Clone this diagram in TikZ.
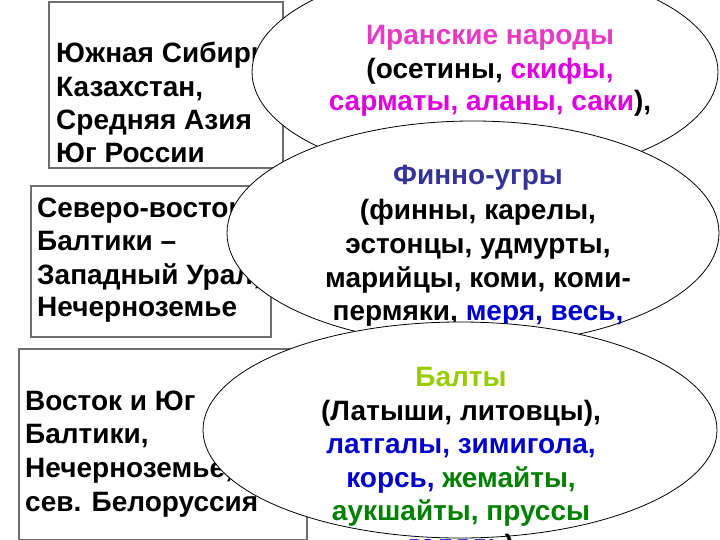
\documentclass[tikz,border=0pt]{standalone}
\usepackage{fontspec}
\setmainfont{Liberation Sans}
\usetikzlibrary{shapes.geometric}
\definecolor{iranpink}{RGB}{228,60,196}
\definecolor{mag}{RGB}{222,0,222}
\definecolor{finblue}{RGB}{51,51,153}
\definecolor{blu}{RGB}{0,0,204}
\definecolor{baltgreen}{RGB}{153,204,0}
\definecolor{grn}{RGB}{0,128,0}
\definecolor{boxgray}{RGB}{110,110,110}
\tikzset{
  rbox/.style={draw=boxgray, line width=1.6pt, rectangle, inner sep=0pt, anchor=north west},
  ell/.style={draw=black, line width=0.8pt, ellipse, fill=white, inner sep=0pt},
  txt/.style={inner sep=0pt, font=\fontsize{28}{33}\selectfont\bfseries},
  ltxt/.style={txt, anchor=base west},
  ctxt/.style={txt, anchor=base}
}
\begin{document}
\begin{tikzpicture}[x=1pt,y=-1pt]
\clip (0,0) rectangle (720,540);
\fill[white] (0,0) rectangle (720,540);
% left boxes
\node[rbox, minimum width=234pt, minimum height=166pt] (r1) at (48,1) {};
\node[ltxt] (r1a) at (56,63) {Южная Сибирь,};
\node[ltxt] (r1b) at (56,97) {Казахстан,};
\node[ltxt] (r1c) at (56,130) {Средняя Азия};
\node[ltxt] (r1d) at (56,163) {Юг России};

\node[rbox, minimum width=240pt, minimum height=151pt] (r2) at (30,185) {};
\node[ltxt] (r2a) at (37,218) {Северо-восток};
\node[ltxt] (r2b) at (37,251) {Балтики –};
\node[ltxt] (r2c) at (37,284) {Западный Урал,};
\node[ltxt] (r2d) at (37,316) {Нечерноземье};

\node[rbox, minimum width=288pt, minimum height=191pt] (r3) at (18,348) {};
\node[ltxt] (r3a) at (25,410) {Восток и Юг};
\node[ltxt] (r3b) at (25,443) {Балтики,};
\node[ltxt] (r3c) at (25,477) {Нечерноземье,};
\node[ltxt] (r3d) at (25,511) {сев. Белоруссия};

% ellipse 1
\node[ell, minimum width=466pt, minimum height=214pt] (e1) at (485,72) {};
\node[ctxt, text=iranpink] (e1a) at (490,45) {Иранские народы};
\node[ctxt] (e1b) at (490,79) {(осетины, \textcolor{mag}{скифы,}};
\node[ctxt] (e1c) at (490,111) {\textcolor{mag}{сарматы, аланы, саки}),};

% ellipse 2
\node[ell, minimum width=492pt, minimum height=224pt] (e2) at (473,233) {};
\node[ctxt, text=finblue] (e2a) at (478,185) {Финно-угры};
\node[ctxt] (e2b) at (478,219) {(финны, карелы,};
\node[ctxt] (e2c) at (478,253) {эстонцы, удмурты,};
\node[ctxt] (e2d) at (478,287) {марийцы, коми, коми-};
\node[ctxt] (e2e) at (478,320) {пермяки, \textcolor{blu}{меря, весь,}};

% ellipse 3
\node[ell, minimum width=514pt, minimum height=216pt] (e3) at (460,430) {};
\node[ctxt, text=baltgreen] (e3a) at (461,386) {Балты};
\node[ctxt] (e3b) at (461,420) {(Латыши, литовцы),};
\node[ctxt, text=blu] (e3c) at (461,453) {латгалы, зимигола,};
\node[ctxt] (e3d) at (461,487) {\textcolor{blu}{корсь,} \textcolor{grn}{жемайты,}};
\node[ctxt, text=grn] (e3e) at (461,520) {аукшайты, пруссы};
\node[ctxt] (e3f) at (461,554) {\textcolor{blu}{голядь})};
\end{tikzpicture}
\end{document}
